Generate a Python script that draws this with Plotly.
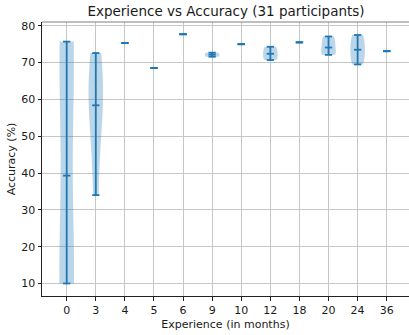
import numpy as np
import plotly.graph_objects as go

# Experience groups (months) and the accuracy (%) of each participant in them
months = ["0", "3", "4", "5", "6", "9", "10", "12", "18", "20", "24", "36"]
acc_0 = [10.0, 10.5, 12.0, 66.6, 74.0, 75.7]
acc_3 = [34.0, 54.0, 58.4, 66.0, 72.6]
acc_4 = [75.3]
acc_5 = [68.5]
acc_6 = [77.7]
acc_9 = [71.6, 72.7]
acc_10 = [75.0]
acc_12 = [70.7, 71.6, 73.2, 74.3]
acc_18 = [75.5]
acc_20 = [72.1, 72.7, 75.5, 77.1]
acc_24 = [69.5, 72.0, 75.0, 77.5]
acc_36 = [73.1]
y_ticks = [10, 20, 30, 40, 50, 60, 70, 80]

groups = [acc_0, acc_3, acc_4, acc_5, acc_6, acc_9, acc_10,
          acc_12, acc_18, acc_20, acc_24, acc_36]
n_total = sum(len(g) for g in groups)

BLUE = "#1f77b4"
VIOLIN_W = 0.5
CAP = VIOLIN_W * 0.25

fig = go.Figure()

lx, ly = [], []
for i, vals in enumerate(groups):
    v = np.asarray(vals, dtype=float)
    if len(v) > 1:
        # Scott's rule bandwidth
        bw = v.std(ddof=1) * len(v) ** (-1 / 5)
        fig.add_trace(go.Violin(
            x=[i] * len(v), y=v, bandwidth=bw, spanmode="hard",
            width=VIOLIN_W, scalemode="width", side="both",
            fillcolor="rgba(31,119,180,0.3)",
            line=dict(width=0, color="rgba(0,0,0,0)"),
            points=False, box_visible=False, meanline_visible=False,
            hoverinfo="skip", showlegend=False,
        ))
    lo, med, hi = v.min(), float(np.median(v)), v.max()
    lx += [i, i, None]
    ly += [lo, hi, None]
    for val in (lo, med, hi):
        lx += [i - CAP, i + CAP, None]
        ly += [val, val, None]

fig.add_trace(go.Scatter(
    x=lx, y=ly, mode="lines", line=dict(color=BLUE, width=1.8),
    hoverinfo="skip", showlegend=False,
))

axis_common = dict(
    showgrid=True, gridcolor="#c6c6c6", gridwidth=1,
    ticks="outside", ticklen=3.5, tickwidth=1, tickcolor="#222",
    showline=True, linecolor="#222", linewidth=1, zeroline=False,
    tickfont=dict(size=11, color="#1a1a1a"),
)

fig.update_layout(
    width=409, height=335,
    margin=dict(l=42, r=0, t=22, b=39),
    paper_bgcolor="white", plot_bgcolor="white",
    font=dict(family="DejaVu Sans", size=11, color="#1a1a1a"),
    violinmode="overlay",
    title=dict(text=f"Experience vs Accuracy ({n_total} participants)",
               font=dict(size=13.5, color="#1a1a1a"),
               x=226 / 409, xanchor="center", xref="container",
               y=1 - 11.5 / 335, yanchor="middle", yref="container"),
    xaxis=dict(axis_common, range=[-0.849, 11.766],
               tickvals=list(range(len(months))), ticktext=months,
               title=dict(text="Experience (in months)", standoff=4,
                          font=dict(size=11))),
    yaxis=dict(axis_common, range=[6.6, 81.03], tickvals=y_ticks,
               title=dict(text="Accuracy (%)", standoff=3,
                          font=dict(size=11))),
    shapes=[dict(type="line", xref="paper", yref="paper",
                 x0=0, x1=1, y0=1, y1=1,
                 line=dict(color="#808080", width=1.2))],
)

fig.write_html("out.html")
